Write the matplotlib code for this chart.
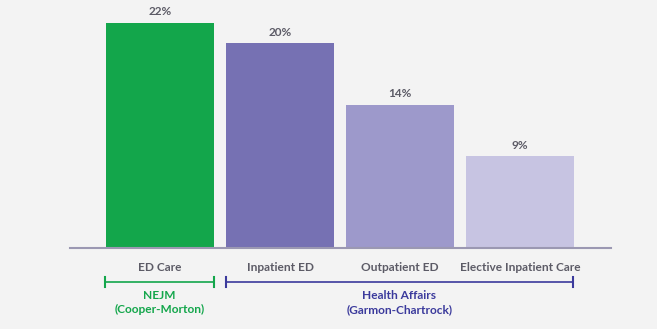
import matplotlib
matplotlib.use("Agg")
import matplotlib.pyplot as plt

plt.rcParams["font.family"] = ["Lato", "DejaVu Sans"]

# data
categories = ["ED Care", "Inpatient ED", "Outpatient ED", "Elective Inpatient Care"]
shares = [22, 20, 14, 9]
bar_colors = ["#13a64b", "#7671b3", "#9d99cb", "#c7c4e2"]

sources = ["NEJM\n(Cooper-Morton)", "Health Affairs\n(Garmon-Chartrock)"]
source_spans = [(-0.458, 0.45), (0.55, 3.44)]
source_colors = ["#13a64b", "#3b3a9c"]

bg = "#f3f3f3"
text_col = "#5c5b66"

fig = plt.figure(figsize=(6.57, 3.29), dpi=100, facecolor=bg)
W, H = 657, 329
# axes from x=70..611 px, y=10..248 px (top-down)
ax = fig.add_axes([70 / W, 1 - 248 / H, (611 - 70) / W, (248 - 10) / H])
ax.set_facecolor(bg)

x = range(len(categories))
ax.bar(x, shares, width=0.9, color=bar_colors, zorder=2)
ax.set_xlim(-0.75, 3.758)
ax.set_ylim(0, 238 / 10.25)

for xi, v in zip(x, shares):
    ax.text(xi, v + 0.5, f"{v}%", ha="center", va="bottom",
            fontsize=8.5, fontweight="bold", color=text_col)

for s in ["top", "right", "left"]:
    ax.spines[s].set_visible(False)
ax.spines["bottom"].set_color("#9b98b2")
ax.spines["bottom"].set_linewidth(1.5)
ax.set_yticks([])
ax.set_xticks(list(x))
ax.set_xticklabels(categories, fontsize=8.6, fontweight="bold", color=text_col)
ax.tick_params(axis="x", length=0, pad=10)

# source brackets
yb = -3.32
for label, (x0, x1), col in zip(sources, source_spans, source_colors):
    ax.plot([x0, x1], [yb, yb], color=col, lw=1.2, clip_on=False)
    for xe in (x0, x1):
        ax.plot([xe, xe], [yb - 0.5, yb + 0.5], color=col, lw=1.5, clip_on=False)
    ax.text((x0 + x1) / 2, yb - 0.8, label, ha="center", va="top",
            fontsize=8.6, fontweight="bold", color=col, linespacing=1.3,
            clip_on=False)

fig.savefig("out.png", dpi=100, facecolor=bg)
